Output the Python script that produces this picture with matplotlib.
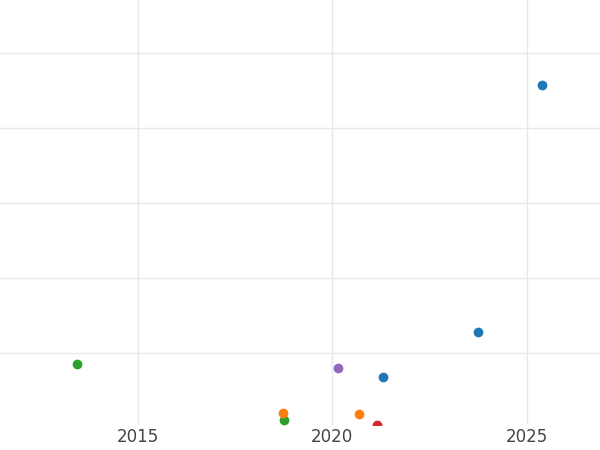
import matplotlib
matplotlib.use("Agg")
import matplotlib.pyplot as plt

blue_x = [2025.41, 2023.76, 2021.30]
blue_y = [4.57, 1.28, 0.68]
green_x = [2013.43, 2018.75]
green_y = [0.85, 0.11]
orange_x = [2018.73, 2020.68]
orange_y = [0.20, 0.19]
red_x = [2021.14]
red_y = [0.04]
purple_x = [2020.16]
purple_y = [0.80]
xticks = [2015, 2020, 2025]

fig = plt.figure(figsize=(6, 4.5), dpi=100)
ax = fig.add_axes([0, 25/450, 1, 425/450])
for x, y, c in [(blue_x, blue_y, '#1f77b4'), (green_x, green_y, '#2ca02c'),
                (orange_x, orange_y, '#ff7f0e'), (red_x, red_y, '#d62728'),
                (purple_x, purple_y, '#9467bd')]:
    ax.scatter(x, y, s=36, color=c, zorder=3, clip_on=True)
ax.set_xlim(2011.45, 2026.89)
ax.set_ylim(0.04, 0.04 + 425/75)
ax.set_xticks(xticks)
ax.set_yticks([1, 2, 3, 4, 5])
ax.set_yticklabels([])
ax.grid(True, color='#e8e8e8', linewidth=1)
ax.set_axisbelow(True)
for s in ax.spines.values():
    s.set_visible(False)
ax.tick_params(length=0, labelsize=12, labelcolor='#444444', pad=2)
fig.savefig("out.png", dpi=100)
